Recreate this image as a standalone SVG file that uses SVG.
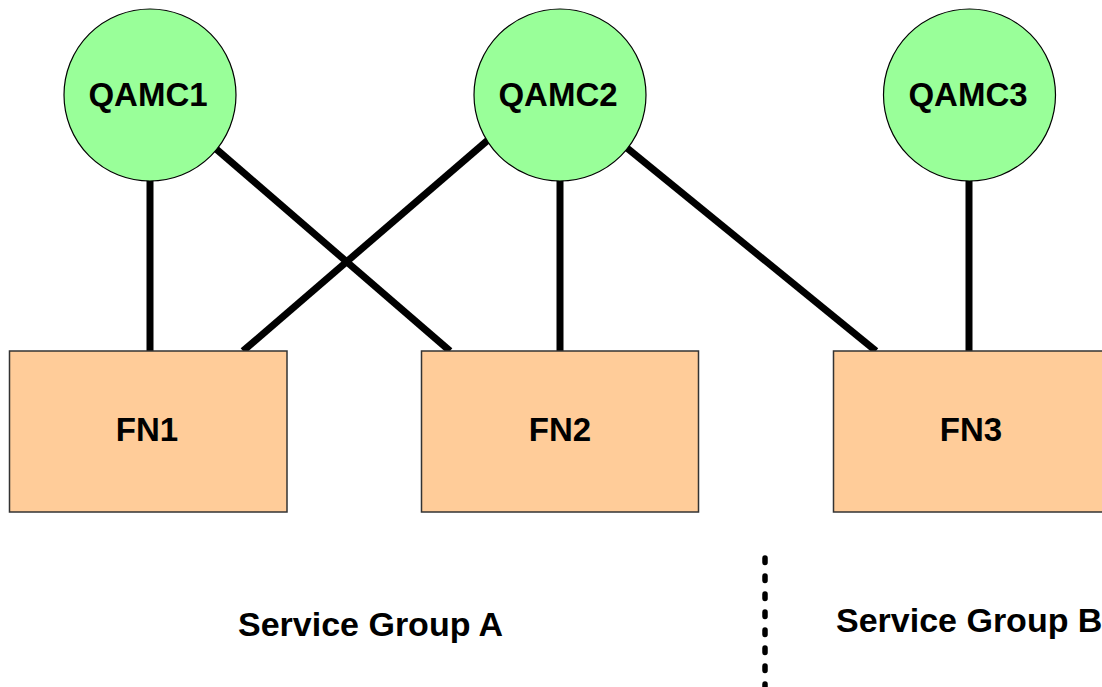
<svg xmlns="http://www.w3.org/2000/svg" width="1102" height="687" viewBox="0 0 1102 687">
  <style>
    .qamc { fill: #99FF99; stroke: #000; stroke-width: 1.2; }
    .fn { fill: #FFCC99; stroke: #333; stroke-width: 1.5; }
    .label { font-family: "Liberation Sans", Arial, sans-serif; font-weight: bold; font-size: 33px; fill: #000; text-anchor: middle; }
    .group { font-family: "Liberation Sans", Arial, sans-serif; font-weight: bold; font-size: 34px; fill: #000; }
    .link { stroke: #000; stroke-width: 7; fill: none; }
    .divider { stroke: #000; stroke-width: 5.5; stroke-dasharray: 4.5 13.5; stroke-linecap: round; fill: none; }
  </style>
  <rect width="1102" height="687" fill="#fff"/>

  <!-- links between QAM controllers and fiber nodes -->
  <g id="connectors">
    <line class="link" x1="150" y1="180" x2="150" y2="351"/>
    <line class="link" x1="215" y1="148" x2="450" y2="351"/>
    <line class="link" x1="488" y1="140" x2="243" y2="351"/>
    <line class="link" x1="560" y1="180" x2="560" y2="351"/>
    <line class="link" x1="627" y1="148" x2="876" y2="351"/>
    <line class="link" x1="969" y1="180" x2="969" y2="351"/>
  </g>

  <g id="qamc1">
    <circle class="qamc" cx="150" cy="95" r="86"/>
    <text class="label" x="148" y="106">QAMC1</text>
  </g>
  <g id="qamc2">
    <circle class="qamc" cx="560" cy="95" r="86"/>
    <text class="label" x="558" y="106">QAMC2</text>
  </g>
  <g id="qamc3">
    <circle class="qamc" cx="969.5" cy="95" r="86"/>
    <text class="label" x="968" y="106">QAMC3</text>
  </g>

  <g id="fn1">
    <rect class="fn" x="9.5" y="351" width="277.5" height="161"/>
    <text class="label" x="147" y="441">FN1</text>
  </g>
  <g id="fn2">
    <rect class="fn" x="421.5" y="351" width="277" height="161"/>
    <text class="label" x="560" y="441">FN2</text>
  </g>
  <g id="fn3">
    <rect class="fn" x="833.5" y="351" width="278" height="161"/>
    <text class="label" x="971" y="441">FN3</text>
  </g>

  <!-- service group boundary -->
  <g id="boundary">
    <line class="divider" x1="765" y1="558" x2="765" y2="700"/>
  </g>

  <g id="service-group-a">
    <text class="group" x="238" y="636">Service Group A</text>
  </g>
  <g id="service-group-b">
    <text class="group" x="836" y="632">Service Group B</text>
  </g>
</svg>
